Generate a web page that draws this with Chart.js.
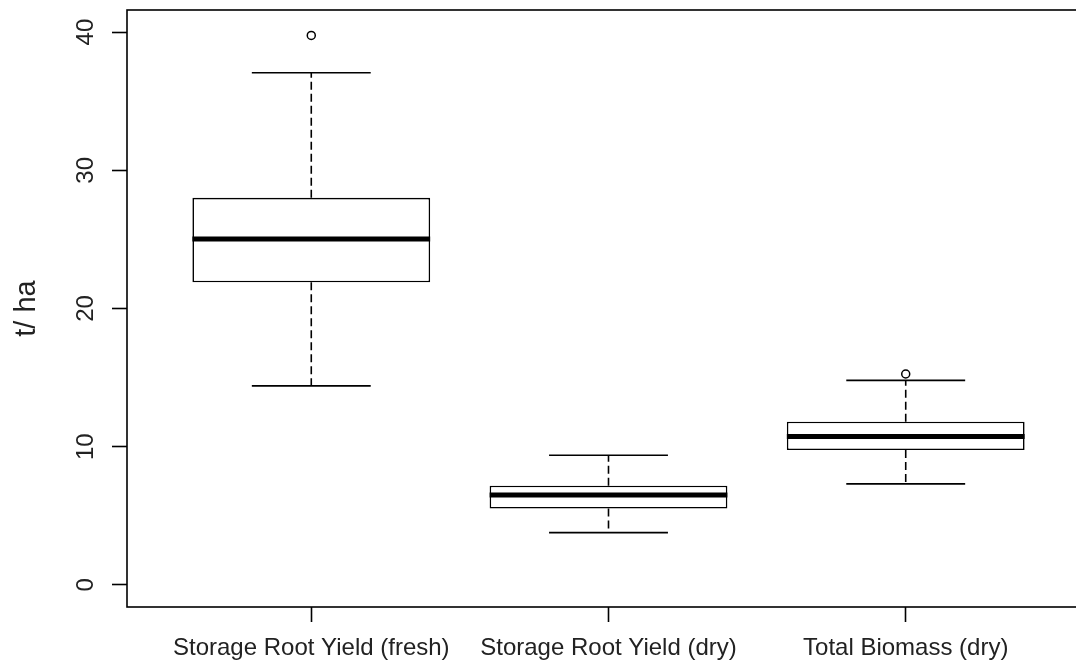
<!DOCTYPE html>
<html>
<head>
<meta charset="utf-8">
<script src="https://cdn.jsdelivr.net/npm/chart.js@4/dist/chart.umd.min.js"></script>
<style>
  html, body { margin: 0; padding: 0; background: #fff; overflow: hidden; }
  #wrap { width: 1100px; height: 664px; }
</style>
</head>
<body>
<div id="wrap"><canvas id="c" width="1100" height="664"></canvas></div>
<script>
// Five-number summaries per group (t/ha)
const categories = ['Storage Root Yield (fresh)', 'Storage Root Yield (dry)', 'Total Biomass (dry)'];
const lowerWhisker = [14.4, 3.78, 7.31];
const firstQuartile = [21.9, 5.52, 9.76];
const medians = [25.03, 6.51, 10.73];
const thirdQuartile = [28.01, 7.18, 11.81];
const upperWhisker = [37.06, 9.38, 14.8];
const outliers = [[39.76], [], [15.26]];
const yTicks = [0, 10, 20, 30, 40];

const FONT = "'Liberation Sans', Arial, sans-serif";
const INK = '#000';
const TEXT = '#222';
const BOX_HALF = 0.4;    // half box width, in category units
const CAP_HALF = 0.2;    // half whisker-cap width
const THIN = 1.6;

// Build broken line series: one segment per piece, separated by gaps
function segments(fn) {
  const pts = [];
  categories.forEach((_, i) => {
    const c = i + 1;
    fn(c, i).forEach(seg => {
      pts.push(seg[0], seg[1], { x: c, y: null });
    });
  });
  return pts;
}

const boxData = categories.map((_, i) => ({ x: i + 1, y: [firstQuartile[i], thirdQuartile[i]] }));

const medianData = segments((c, i) => [[
  { x: c - BOX_HALF, y: medians[i] }, { x: c + BOX_HALF, y: medians[i] }
]]);

const whiskerData = segments((c, i) => [
  [{ x: c, y: thirdQuartile[i] }, { x: c, y: upperWhisker[i] }],
  [{ x: c, y: firstQuartile[i] }, { x: c, y: lowerWhisker[i] }]
]);

const capData = segments((c, i) => [
  [{ x: c - CAP_HALF, y: upperWhisker[i] }, { x: c + CAP_HALF, y: upperWhisker[i] }],
  [{ x: c - CAP_HALF, y: lowerWhisker[i] }, { x: c + CAP_HALF, y: lowerWhisker[i] }]
]);

const outlierData = [];
outliers.forEach((vals, i) => vals.forEach(v => outlierData.push({ x: i + 1, y: v })));

const lineBase = { type: 'line', pointRadius: 0, spanGaps: false, fill: false, borderColor: INK };

// Plot frame drawn around the full plotting region
const framePlugin = {
  id: 'frame',
  afterDatasetsDraw(chart) {
    const { ctx, chartArea: a } = chart;
    ctx.save();
    ctx.strokeStyle = INK;
    ctx.lineWidth = THIN;
    ctx.strokeRect(a.left, a.top, a.right - a.left, a.bottom - a.top);
    ctx.restore();
  }
};

const noEdgePadding = s => { s.paddingTop = 0; s.paddingBottom = 0; s.paddingLeft = 0; s.paddingRight = 0; };

new Chart(document.getElementById('c'), {
  data: {
    datasets: [
      { type: 'bar', data: boxData, backgroundColor: '#fff', borderColor: INK, borderWidth: THIN,
        borderSkipped: false, categoryPercentage: 1, barPercentage: 0.8, order: 5 },
      { ...lineBase, data: whiskerData, borderWidth: THIN, borderDash: [8, 4], order: 4 },
      { ...lineBase, data: capData, borderWidth: THIN, order: 3 },
      { ...lineBase, data: medianData, borderWidth: 5, order: 2 },
      { type: 'scatter', data: outlierData, pointRadius: 4, pointBorderWidth: 1.5,
        pointBackgroundColor: '#fff', pointBorderColor: INK, order: 1 }
    ]
  },
  options: {
    responsive: false,
    animation: false,
    events: [],
    devicePixelRatio: 1,
    layout: { padding: { top: 10, right: 10, bottom: 0, left: 0 } },
    plugins: { legend: { display: false }, tooltip: { enabled: false } },
    scales: {
      x: {
        type: 'linear', min: 0.38, max: 3.62, offset: false,
        afterBuildTicks: s => { s.ticks = categories.map((_, i) => ({ value: i + 1 })); },
        afterFit: s => { s.height = 57; noEdgePadding(s); },
        border: { display: false },
        grid: { offset: false, drawOnChartArea: false, drawTicks: true, tickLength: 15, tickColor: INK, tickWidth: THIN },
        ticks: {
          autoSkip: false, minRotation: 0, maxRotation: 0, padding: 12,
          color: TEXT, font: { family: FONT, size: 24 },
          callback: v => categories[v - 1] ?? ''
        }
      },
      y: {
        type: 'linear', min: -1.6, max: 41.6,
        afterBuildTicks: s => { s.ticks = yTicks.map(v => ({ value: v })); },
        afterFit: s => { s.width = 127; noEdgePadding(s); },
        border: { display: false },
        grid: { drawOnChartArea: false, drawTicks: true, tickLength: 15, tickColor: INK, tickWidth: THIN },
        ticks: {
          minRotation: 90, maxRotation: 90, crossAlign: 'center', padding: 12,
          color: TEXT, font: { family: FONT, size: 24 }
        },
        title: {
          display: true, text: 't/ ha', color: TEXT,
          font: { family: FONT, size: 29 }, padding: { top: 10, bottom: 0 }
        }
      }
    }
  },
  plugins: [framePlugin]
});
</script>
</body>
</html>
